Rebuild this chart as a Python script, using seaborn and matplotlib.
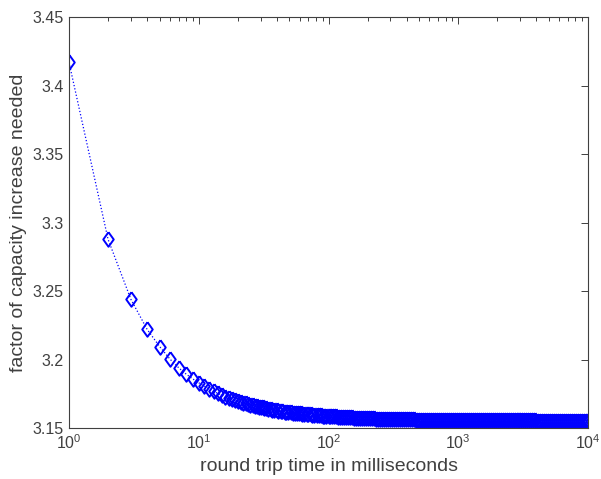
import numpy as np
import seaborn as sns
import matplotlib
matplotlib.use("Agg")
import matplotlib.pyplot as plt
from matplotlib.ticker import LogLocator, FixedLocator, FixedFormatter, NullFormatter

# round trip time (ms) and the factor
rtt_ms = [1, 2, 3, 4, 5, 6, 7, 8, 9, 10,
          11, 12, 13, 14, 15, 16, 17, 18, 19, 20,
          21, 22, 23, 24, 25, 26, 27, 28, 29, 30,
          31, 32, 33, 34, 36, 37, 38, 40, 41, 43,
          44, 46, 47, 49, 51, 53, 55, 57, 59, 61,
          63, 65, 68, 70, 73, 75, 78, 81, 84, 87,
          90, 93, 96, 100, 103, 107, 111, 115, 119, 123,
          128, 132, 137, 142, 147, 152, 158, 163, 169, 175,
          182, 188, 195, 202, 209, 217, 224, 233, 241, 250,
          259, 268, 278, 288, 298, 309, 320, 331, 343, 356,
          368, 382, 395, 410, 424, 440, 455, 472, 489, 506,
          525, 543, 563, 583, 604, 626, 648, 672, 696, 721,
          747, 774, 802, 830, 860, 891, 923, 957, 991, 1027,
          1064, 1102, 1142, 1183, 1225, 1269, 1315, 1362, 1411, 1462,
          1515, 1569, 1626, 1684, 1745, 1808, 1873, 1940, 2010, 2082,
          2157, 2235, 2315, 2399, 2485, 2574, 2667, 2763, 2862, 2965,
          3072, 3183, 3297, 3416, 3539, 3666, 3798, 3935, 4077, 4223,
          4375, 4533, 4696, 4865, 5040, 5222, 5410, 5604, 5806, 6015,
          6232, 6456, 6689, 6929, 7179, 7437, 7705, 7982, 8270, 8567,
          8876, 9195, 9526, 9869, 10000]

factor = [3.4169, 3.2877, 3.2439, 3.2220, 3.2094, 3.2003, 3.1940, 3.1893, 3.1858, 3.1830,
          3.1806, 3.1786, 3.1768, 3.1753, 3.1741, 3.1729, 3.1720, 3.1711, 3.1703, 3.1696,
          3.1690, 3.1684, 3.1679, 3.1674, 3.1670, 3.1666, 3.1662, 3.1659, 3.1656, 3.1653,
          3.1650, 3.1647, 3.1644, 3.1641, 3.1636, 3.1634, 3.1632, 3.1628, 3.1626, 3.1623,
          3.1621, 3.1619, 3.1617, 3.1616, 3.1614, 3.1612, 3.1610, 3.1609, 3.1607, 3.1606,
          3.1605, 3.1603, 3.1602, 3.1600, 3.1599, 3.1598, 3.1596, 3.1595, 3.1594, 3.1593,
          3.1591, 3.1590, 3.1589, 3.1588, 3.1587, 3.1586, 3.1585, 3.1584, 3.1583, 3.1582,
          3.1581, 3.1580, 3.1579, 3.1578, 3.1577, 3.1577, 3.1576, 3.1575, 3.1575, 3.1574,
          3.1573, 3.1573, 3.1572, 3.1571, 3.1571, 3.1570, 3.1570, 3.1569, 3.1569, 3.1568,
          3.1568, 3.1567, 3.1567, 3.1567, 3.1566, 3.1566, 3.1566, 3.1565, 3.1565, 3.1565,
          3.1564, 3.1564, 3.1564, 3.1563, 3.1563, 3.1563, 3.1563, 3.1562, 3.1562, 3.1562,
          3.1562, 3.1561, 3.1561, 3.1561, 3.1561, 3.1561, 3.1560, 3.1560, 3.1560, 3.1560,
          3.1560, 3.1559, 3.1559, 3.1559, 3.1559, 3.1559, 3.1558, 3.1558, 3.1558, 3.1558,
          3.1558, 3.1557, 3.1557, 3.1557, 3.1557, 3.1557, 3.1557, 3.1557, 3.1556, 3.1556,
          3.1556, 3.1556, 3.1556, 3.1556, 3.1556, 3.1556, 3.1556, 3.1556, 3.1556, 3.1555,
          3.1555, 3.1555, 3.1555, 3.1555, 3.1555, 3.1555, 3.1555, 3.1555, 3.1555, 3.1555,
          3.1555, 3.1555, 3.1555, 3.1555, 3.1555, 3.1555, 3.1555, 3.1555, 3.1554, 3.1554,
          3.1554, 3.1554, 3.1554, 3.1554, 3.1554, 3.1554, 3.1554, 3.1554, 3.1554, 3.1554,
          3.1554, 3.1554, 3.1554, 3.1554, 3.1554, 3.1554, 3.1554, 3.1554, 3.1553, 3.1553,
          3.1553, 3.1553, 3.1553, 3.1553, 3.1553]

y_ticks = [3.15, 3.2, 3.25, 3.3, 3.35, 3.4, 3.45]
y_labels = ["3.15", "3.2", "3.25", "3.3", "3.35", "3.4", "3.45"]

sns.set_style("white")
plt.rcParams["font.family"] = ["Liberation Sans", "DejaVu Sans"]
plt.rcParams["mathtext.fontset"] = "custom"
plt.rcParams["mathtext.rm"] = "Liberation Sans"
plt.rcParams["mathtext.it"] = "Liberation Sans"

gray = "#404040"
diamond = [(0, 1), (0.72, 0), (0, -1), (-0.72, 0), (0, 1)]

fig = plt.figure(figsize=(6.01, 4.79), dpi=100)
ax = fig.add_axes([69 / 601, 51 / 479, 519 / 601, 411 / 479])

sns.lineplot(x=rtt_ms, y=factor, ax=ax, estimator=None, sort=False,
             color="#0000ff", linestyle=":", linewidth=0.9,
             marker=diamond, markersize=10.5, markerfacecolor="none",
             markeredgecolor="#0000ff", markeredgewidth=1.4)

ax.set_xscale("log")
ax.set_xlim(1, 1e4)
ax.set_ylim(3.15, 3.45)
ax.yaxis.set_major_locator(FixedLocator(y_ticks))
ax.yaxis.set_major_formatter(FixedFormatter(y_labels))
ax.xaxis.set_major_locator(LogLocator(base=10, numticks=10))
ax.xaxis.set_minor_locator(LogLocator(base=10, subs=np.arange(2, 10), numticks=10))
ax.xaxis.set_minor_formatter(NullFormatter())

for side in ax.spines.values():
    side.set_color(gray)
    side.set_linewidth(0.8)

ax.tick_params(which="both", direction="in", top=True, right=True,
               color=gray, labelcolor=gray, labelsize=11.5, width=0.7)
ax.tick_params(which="major", length=5)
ax.tick_params(which="minor", length=3)
ax.tick_params(axis="x", pad=4)
ax.tick_params(axis="y", pad=4)

ax.set_xlabel("round trip time in milliseconds", fontsize=14, color=gray, labelpad=4)
ax.set_ylabel("factor of capacity increase needed", fontsize=14, color=gray, labelpad=4)

fig.savefig("out.png", dpi=100)
